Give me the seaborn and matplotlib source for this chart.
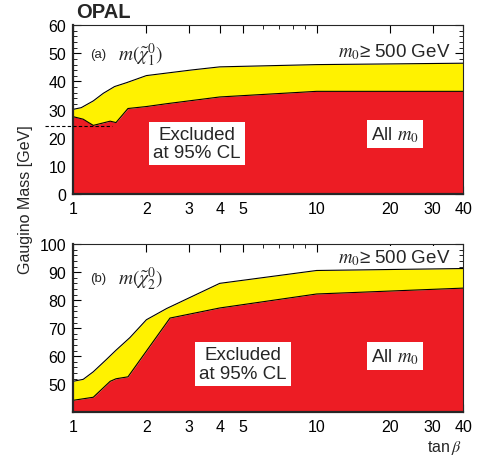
import numpy as np
import pandas as pd
import matplotlib
matplotlib.use("Agg")
from matplotlib import pyplot as plt
from matplotlib import ticker
import matplotlib.transforms as mtransforms
import seaborn as sns

# chi_1^0 limits (panel a)
tanb_a_up = [1.0, 1.08, 1.21, 1.33, 1.48, 1.66, 2.0, 3.07, 4.0, 10.0, 40.0]
mass_a_up = [30.1, 30.7, 33.1, 35.8, 38.2, 39.6, 42.1, 44.1, 45.2, 46.0, 46.5]
tanb_a_lo = [1.0, 1.1, 1.21, 1.42, 1.5, 1.68, 2.0, 2.42, 4.0, 10.0, 40.0]
mass_a_lo = [27.5, 26.6, 24.4, 25.9, 25.4, 30.4, 31.1, 32.1, 34.5, 36.5, 36.5]
dash_a = 24.3

# chi_2^0 limits (panel b)
tanb_b_up = [1.0, 1.1, 1.21, 1.37, 1.5, 1.71, 2.0, 2.42, 4.0, 10.0, 40.0]
mass_b_up = [51.0, 51.7, 54.4, 58.8, 62.1, 66.6, 73.0, 77.0, 86.0, 90.6, 91.3]
tanb_b_lo = [1.0, 1.21, 1.42, 1.5, 1.68, 2.5, 4.0, 10.0, 40.0]
mass_b_lo = [44.2, 45.3, 51.0, 51.9, 52.6, 73.6, 77.2, 82.2, 84.3]

xticks = [1, 2, 3, 4, 5, 10, 20, 30, 40]

RED = "#ED1C24"
YEL = "#FFF200"

sns.set_theme(style="ticks")
plt.rcParams["font.family"] = ["Liberation Sans", "DejaVu Sans"]
plt.rcParams["mathtext.fontset"] = "stix"

fig = plt.figure(figsize=(4.81, 4.60), dpi=100)
ax1 = fig.add_axes([0.152, 0.576, 0.811, 0.367])
ax2 = fig.add_axes([0.152, 0.102, 0.811, 0.365])


def draw_panel(ax, tu, mu, tl, ml, ymin, ymax):
    grid = np.unique(np.concatenate([tu, tl]))
    up = np.interp(np.log(grid), np.log(tu), mu)
    lo = np.interp(np.log(grid), np.log(tl), ml)
    ax.fill_between(grid, lo, up, color=YEL, lw=0, zorder=1)
    ax.fill_between(tl, ymin, ml, color=RED, lw=0, zorder=1)
    df_u = pd.DataFrame({"tanb": tu, "m": mu})
    df_l = pd.DataFrame({"tanb": tl, "m": ml})
    sns.lineplot(data=df_u, x="tanb", y="m", ax=ax, color="black", lw=0.8, zorder=2)
    sns.lineplot(data=df_l, x="tanb", y="m", ax=ax, color="black", lw=0.8, zorder=2)
    ax.set_xscale("log")
    ax.set_xlim(1, 40)
    ax.set_ylim(ymin, ymax)
    ax.set_xlabel("")
    ax.set_ylabel("")
    ax.xaxis.set_major_locator(ticker.FixedLocator(xticks))
    ax.xaxis.set_major_formatter(ticker.FixedFormatter([str(t) for t in xticks]))
    ax.xaxis.set_minor_locator(ticker.LogLocator(subs=np.arange(1, 10) * 1.0, numticks=20))
    ax.xaxis.set_minor_formatter(ticker.NullFormatter())
    ax.yaxis.set_major_locator(ticker.MultipleLocator(10))
    ax.yaxis.set_minor_locator(ticker.MultipleLocator(2))
    ax.tick_params(which="both", direction="in", top=True, right=True,
                   labelsize=11.5, colors="black", pad=5)
    ax.tick_params(which="major", length=6, width=0.8)
    ax.tick_params(which="minor", length=3, width=0.6)
    for s in ["left", "bottom"]:
        ax.spines[s].set_linewidth(1.6)
    for s in ["right", "top"]:
        ax.spines[s].set_linewidth(0.8)
    for s in ax.spines.values():
        s.set_zorder(5)


draw_panel(ax1, tanb_a_up, mass_a_up, tanb_a_lo, mass_a_lo, 0, 60)
draw_panel(ax2, tanb_b_up, mass_b_up, tanb_b_lo, mass_b_lo, 40, 100)
ax2.set_yticks([50, 60, 70, 80, 90, 100])

box = dict(facecolor="white", edgecolor="none", pad=3)
box_small = dict(facecolor="white", edgecolor="none", pad=1)

# dashed line in panel a
trans = mtransforms.blended_transform_factory(ax1.transAxes, ax1.transData)
ax1.plot([-0.072, 0.10], [dash_a, dash_a], transform=trans, color="black",
         ls=(0, (3, 2)), lw=0.8, clip_on=False, zorder=6)

for ax, lab, mlab, ytop, ylab in [
    (ax1, "(a)", r"$m(\tilde{\chi}^0_1)$", 0.846, 0.83),
    (ax2, "(b)", r"$m(\tilde{\chi}^0_2)$", 0.923, 0.80),
]:
    ax.text(0.967, ytop, r"$m_0$" + "\u2265 500 GeV", transform=ax.transAxes,
            ha="right", va="center", fontsize=13.5, bbox=box_small, zorder=4)
    ax.text(0.044, ylab, lab, transform=ax.transAxes, ha="left", va="center",
            fontsize=9.5)
    ax.text(0.115, ylab, mlab, transform=ax.transAxes, ha="left", va="center",
            fontsize=14)

ax1.text(0.318, 0.30, "Excluded\nat 95% CL", transform=ax1.transAxes,
         ha="center", va="center", fontsize=13.5, bbox=box, zorder=4, linespacing=1.1)
ax1.text(0.826, 0.355, "All " + r"$m_0$", transform=ax1.transAxes,
         ha="center", va="center", fontsize=13.5, bbox=box, zorder=4)
ax2.text(0.436, 0.286, "Excluded\nat 95% CL", transform=ax2.transAxes,
         ha="center", va="center", fontsize=13.5, bbox=box, zorder=4, linespacing=1.1)
ax2.text(0.826, 0.333, "All " + r"$m_0$", transform=ax2.transAxes,
         ha="center", va="center", fontsize=13.5, bbox=box, zorder=4)

fig.text(0.158, 0.972, "OPAL", fontsize=14.5, fontweight="bold", ha="left", va="center")
fig.text(0.054, 0.565, "Gaugino Mass [GeV]", rotation=90, fontsize=11.5,
         ha="center", va="center")
fig.text(0.923, 0.026, "tan" + r"$\,\beta$", fontsize=11.5, ha="center", va="center")

fig.savefig("out.png", dpi=100)
